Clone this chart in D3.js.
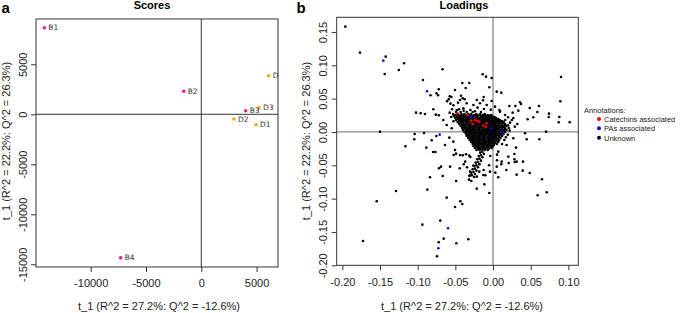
<!DOCTYPE html>
<html>
<head>
<meta charset="utf-8">
<script src="https://cdnjs.cloudflare.com/ajax/libs/d3/7.8.5/d3.min.js"></script>
<style>
  body { margin: 0; background: #fff; }
  text { font-family: "Liberation Sans", Arial, sans-serif; }
</style>
</head>
<body>
<div id="chart"></div>
<script>
// Scores (panel a)
const scoreLabels = ["B1", "B2", "B3", "B4", "D1", "D2", "D3", "D4"];
const scoreT1 = [-14195, -1590, 4015, -7288, 4946, 2957, 5217, 6094];
const scoreT2 = [8660, 2300, 360, -14340, -1040, -470, 660, 3860];
const scoreGroup = ["B", "B", "B", "B", "D", "D", "D", "D"];
const scoreXTicks = [-10000, -5000, 0, 5000];
const scoreYTicks = [-15000, -10000, -5000, 0, 5000];

// Loadings (panel b)
const catechinPoints = [[-0.0474, 0.028], [-0.0341, 0.0255], [-0.0288, 0.017], [-0.027, 0.012], [-0.0239, 0.018],
  [-0.0212, 0.0165], [-0.0182, 0.0155], [-0.0129, 0.0095], [-0.0097, 0.008], [-0.0084, 0.013]];
const paPoints = [[-0.1456, 0.107], [-0.0876, 0.061], [-0.0708, -0.004], [-0.0296, 0.023], [-0.003, 0.0055],
  [0.0124, -0.0005], [-0.0597, -0.1445], [-0.0726, -0.1745]];
const unknownPoints = [
  [-0.196, 0.158], [-0.1766, 0.119], [-0.1424, 0.113], [-0.1438, 0.087], [-0.118, 0.103], [-0.125, 0.093],
  [-0.067, 0.094], [-0.093, 0.078], [-0.072, 0.064], [-0.0504, 0.063], [-0.075, 0.058], [-0.073, 0.055],
  [-0.083, 0.055], [-0.0575, 0.0535], [-0.0553, 0.0525], [-0.0588, 0.049], [-0.061, 0.046],
  [-0.0137, 0.0865], [-0.0093, 0.083], [-0.0018, 0.081], [-0.0407, 0.0735], [-0.0315, 0.0735], [-0.0363, 0.066],
  [-0.0049, 0.067], [0.0049, 0.0605], [0.011, 0.059], [0.0903, 0.0825], [-0.0425, 0.0544], [-0.0402, 0.0505],
  [-0.0376, 0.049], [-0.0216, 0.048], [-0.0124, 0.0525], [-0.0133, 0.0475], [-0.0018, 0.0465], [0.0894, 0.046],
  [0.0358, 0.0445], [0.0372, 0.042], [0.0217, 0.039], [0.0296, 0.039], [0.0487, 0.036], [0.061, 0.039],
  [0.0589, 0.030], [0.0743, 0.0275], [0.074, 0.0225], [0.0535, 0.022], [0.046, 0.019], [0.088, 0.0225],
  [0.0872, 0.0145], [0.1018, 0.0145], [0.0704, 0.0005], [0.0336, 0.032], [0.0261, 0.029], [0.027, 0.021],
  [0.0226, 0.014], [0.0323, 0.012], [0.0163, 0.018], [0.0425, -0.002], [0.0615, -0.011], [0.0447, -0.011],
  [0.0305, -0.0235], [0.0283, -0.033],
  [-0.1022, 0.029], [-0.096, 0.028], [-0.0903, 0.027], [-0.0792, 0.034], [-0.076, 0.026], [-0.072, 0.025],
  [-0.15, 0.0005], [-0.104, -0.003], [-0.0916, -0.0015], [-0.1045, -0.011], [-0.0814, -0.0125], [-0.0752, -0.006],
  [-0.1164, -0.0215], [-0.0885, -0.0235], [-0.0796, -0.030], [-0.0766, -0.030], [-0.0717, -0.0545], [-0.069, -0.052],
  [-0.0836, -0.068], [-0.1288, -0.0885], [-0.1544, -0.104], [-0.0872, -0.0865], [-0.0615, -0.0985], [-0.0504, -0.1125],
  [-0.049, -0.0735], [-0.0938, -0.139], [-0.070, -0.133], [-0.0655, -0.160], [-0.0721, -0.1655], [-0.0743, -0.1865],
  [-0.1726, -0.1635], [-0.0487, -0.167], [-0.0328, -0.161], [-0.0434, -0.104], [-0.0408, -0.108], [-0.0049, -0.0915],
  [-0.0216, -0.085], [-0.0115, -0.0785], [-0.0319, -0.0715], [-0.0288, -0.0735], [-0.0252, -0.0675], [-0.0309, -0.065],
  [-0.0102, -0.065], [0.0031, -0.061], [0.007, -0.068], [0.0177, -0.057], [0.0314, -0.064], [0.0394, -0.058],
  [0.0487, -0.0615], [0.065, -0.071], [0.0713, -0.0905], [0.0593, -0.095],
  [-0.0522, -0.0345], [-0.0491, -0.0325], [-0.0402, -0.035], [-0.0358, -0.0335], [-0.0301, -0.0375], [-0.0315, -0.0355],
  [-0.0036, -0.036], [0.0053, -0.034], [-0.0442, -0.0545], [-0.0345, -0.053], [-0.0389, -0.0485], [-0.0261, -0.0505],
  [-0.0182, -0.0485], [-0.0053, -0.050], [0.0053, -0.0425], [0.011, -0.0485], [0.0208, -0.0465], [0.0283, -0.041],
  [0.0288, -0.045], [0.0398, -0.0445], [-0.0668, -0.066], [-0.0182, -0.0595], [-0.0124, -0.057],
  // around the dense core
  [-0.066, 0.018], [-0.0615, 0.0105], [-0.0548, 0.0055], [-0.058, -0.0085], [-0.0527, -0.0145], [-0.0637, -0.0195],
  [-0.0504, -0.027], [-0.0438, -0.0345], [-0.057, -0.052], [-0.037, -0.0445], [-0.0305, -0.0595], [0.007, -0.0295],
  [0.018, -0.0195], [0.027, -0.0095], [0.029, 0.008], [0.025, 0.018], [0.016, 0.0255], [0.0093, 0.0305],
  [0.0027, 0.038], [-0.0084, 0.0405], [-0.0173, 0.043], [-0.026, 0.0405], [-0.035, 0.043], [-0.0438, 0.048],
  [-0.0394, 0.0355], [-0.048, 0.033], [0.0314, -0.0445], [0.0203, -0.037], [0.0115, -0.0445], [0.0049, -0.052],
  [-0.004, -0.0595], [-0.0129, -0.0645], [-0.0216, -0.067], [-0.0565, 0.0425], [-0.0525, 0.040], [-0.0465, 0.044],
  [-0.0545, 0.034], [-0.0575, 0.029], [-0.0555, 0.0225], [-0.0525, 0.016], [0.020, 0.022], [0.021, 0.006],
  [0.0195, -0.004], [0.012, -0.018], [0.0085, 0.033], [-0.003, 0.0335], [-0.012, 0.0345], [-0.0205, 0.0365],
  [-0.045, 0.034], [-0.039, 0.032], [-0.030, 0.033], [-0.024, 0.031], [-0.016, 0.030], [0.020, 0.010],
  [0.022, 0.002], [0.017, -0.008], [0.015, -0.012],
  // spine running down from the core
  [-0.014, -0.030], [-0.017, -0.031], [-0.012, -0.033], [-0.016, -0.035], [-0.019, -0.036], [-0.014, -0.038],
  [-0.018, -0.040], [-0.021, -0.041], [-0.016, -0.043], [-0.020, -0.045], [-0.023, -0.046], [-0.018, -0.048],
  [-0.022, -0.050], [-0.025, -0.051], [-0.020, -0.053], [-0.024, -0.055], [-0.027, -0.056], [-0.022, -0.058],
  [-0.026, -0.060], [-0.029, -0.061], [-0.024, -0.063], [-0.028, -0.065], [-0.031, -0.066]
];
// dense core, one row per t_2 level: [t_2, [t_1 values]]
const unknownCoreRows = [
  [0.030, [-0.049, -0.043, -0.035, -0.027]],
  [0.027, [-0.053, -0.047, -0.042, -0.038, -0.033, -0.029, -0.022, -0.017, -0.011]],
  [0.0255, [-0.050, -0.046, -0.043, -0.039, -0.036, -0.032, -0.029, -0.025, -0.022, -0.018, -0.014, -0.011, -0.007, -0.003]],
  [0.024, [-0.052, -0.048, -0.045, -0.041, -0.038, -0.034, -0.031, -0.027, -0.023, -0.020, -0.016, -0.013, -0.009, -0.005, -0.001]],
  [0.0225, [-0.048, -0.044, -0.041, -0.037, -0.034, -0.030, -0.027, -0.023, -0.020, -0.016, -0.013, -0.009, -0.006, -0.002, 0.002]],
  [0.021, [-0.050, -0.046, -0.043, -0.039, -0.036, -0.032, -0.029, -0.025, -0.022, -0.018, -0.015, -0.011, -0.008, -0.004, 0.000, 0.004]],
  [0.0195, [-0.047, -0.043, -0.040, -0.036, -0.033, -0.029, -0.026, -0.022, -0.019, -0.015, -0.012, -0.008, -0.005, -0.001, 0.003, 0.007]],
  [0.018, [-0.049, -0.045, -0.041, -0.038, -0.034, -0.031, -0.027, -0.024, -0.020, -0.017, -0.013, -0.010, -0.006, -0.003, 0.001, 0.005, 0.009]],
  [0.0165, [-0.045, -0.042, -0.038, -0.035, -0.031, -0.028, -0.024, -0.021, -0.017, -0.014, -0.010, -0.007, -0.003, 0.000, 0.004, 0.008, 0.012]],
  [0.015, [-0.047, -0.043, -0.040, -0.036, -0.033, -0.029, -0.026, -0.022, -0.019, -0.015, -0.012, -0.008, -0.005, -0.001, 0.002, 0.006, 0.010, 0.014]],
  [0.0135, [-0.043, -0.040, -0.036, -0.033, -0.029, -0.026, -0.023, -0.019, -0.016, -0.012, -0.009, -0.005, -0.002, 0.002, 0.006, 0.010, 0.014]],
  [0.012, [-0.045, -0.041, -0.038, -0.034, -0.031, -0.028, -0.024, -0.021, -0.017, -0.014, -0.010, -0.007, -0.003, 0.000, 0.004, 0.008, 0.012, 0.016]],
  [0.0105, [-0.041, -0.038, -0.034, -0.031, -0.027, -0.024, -0.020, -0.017, -0.013, -0.010, -0.006, -0.003, 0.001, 0.004, 0.008, 0.012, 0.016]],
  [0.009, [-0.043, -0.039, -0.036, -0.032, -0.029, -0.026, -0.022, -0.019, -0.015, -0.012, -0.008, -0.005, -0.001, 0.002, 0.006, 0.010, 0.014, 0.018]],
  [0.0075, [-0.039, -0.036, -0.032, -0.029, -0.025, -0.022, -0.018, -0.015, -0.011, -0.008, -0.004, -0.001, 0.003, 0.006, 0.010, 0.014]],
  [0.006, [-0.041, -0.037, -0.034, -0.030, -0.027, -0.024, -0.020, -0.017, -0.013, -0.010, -0.006, -0.003, 0.001, 0.004, 0.008, 0.012, 0.016]],
  [0.0045, [-0.038, -0.034, -0.031, -0.027, -0.024, -0.020, -0.017, -0.013, -0.009, -0.006, -0.002, 0.001, 0.005, 0.008, 0.012, 0.016]],
  [0.003, [-0.040, -0.036, -0.032, -0.029, -0.025, -0.022, -0.018, -0.015, -0.011, -0.008, -0.004, -0.001, 0.003, 0.006, 0.010, 0.014, 0.018]],
  [0.0015, [-0.036, -0.033, -0.029, -0.026, -0.022, -0.019, -0.015, -0.012, -0.008, -0.005, -0.001, 0.002, 0.006, 0.010, 0.014]],
  [0.000, [-0.038, -0.034, -0.031, -0.027, -0.024, -0.020, -0.017, -0.013, -0.010, -0.006, -0.003, 0.001, 0.004, 0.008, 0.012, 0.016]],
  [-0.0015, [-0.035, -0.031, -0.028, -0.024, -0.021, -0.017, -0.014, -0.010, -0.007, -0.003, 0.000, 0.004, 0.008, 0.012]],
  [-0.003, [-0.036, -0.032, -0.029, -0.025, -0.022, -0.018, -0.015, -0.011, -0.008, -0.004, -0.001, 0.003, 0.006, 0.010, 0.014]],
  [-0.0045, [-0.033, -0.030, -0.026, -0.023, -0.019, -0.016, -0.012, -0.009, -0.005, -0.002, 0.002, 0.006, 0.010]],
  [-0.006, [-0.035, -0.031, -0.027, -0.024, -0.020, -0.017, -0.013, -0.010, -0.006, -0.003, 0.001, 0.004, 0.008, 0.012]],
  [-0.0075, [-0.032, -0.028, -0.025, -0.021, -0.018, -0.014, -0.011, -0.007, -0.004, 0.000, 0.004, 0.008]],
  [-0.009, [-0.033, -0.029, -0.026, -0.022, -0.019, -0.015, -0.012, -0.008, -0.005, -0.001, 0.002, 0.006, 0.010]],
  [-0.0105, [-0.030, -0.026, -0.023, -0.019, -0.016, -0.012, -0.009, -0.005, -0.002, 0.002, 0.006]],
  [-0.012, [-0.031, -0.027, -0.024, -0.020, -0.017, -0.013, -0.010, -0.006, -0.003, 0.001, 0.005, 0.008]],
  [-0.0135, [-0.028, -0.025, -0.021, -0.018, -0.014, -0.011, -0.007, -0.004, 0.000, 0.004]],
  [-0.015, [-0.029, -0.026, -0.022, -0.019, -0.015, -0.012, -0.008, -0.005, -0.001, 0.003, 0.007]],
  [-0.0165, [-0.026, -0.023, -0.019, -0.016, -0.012, -0.009, -0.005, -0.002, 0.002]],
  [-0.018, [-0.027, -0.024, -0.020, -0.017, -0.013, -0.010, -0.006, -0.003, 0.001, 0.005]],
  [-0.0195, [-0.024, -0.021, -0.017, -0.014, -0.010, -0.007, -0.003, 0.001]],
  [-0.021, [-0.026, -0.022, -0.019, -0.015, -0.012, -0.008, -0.004, 0.000]],
  [-0.0225, [-0.022, -0.019, -0.015, -0.012, -0.008, -0.005, -0.001]],
  [-0.024, [-0.024, -0.020, -0.017, -0.013, -0.010, -0.006, -0.002]],
  [-0.0255, [-0.020, -0.017, -0.013, -0.010, -0.006]],
  [-0.027, [-0.022, -0.018, -0.015, -0.011, -0.007]]
];
const loadXTicks = [-0.20, -0.15, -0.10, -0.05, 0.00, 0.05, 0.10];
const loadYTicks = [-0.20, -0.15, -0.10, -0.05, 0.00, 0.05, 0.10, 0.15];
const legendLabels = ["Catechins associated", "PAs associated", "Unknown"];
const legendColors = ["#ff0000", "#0000ff", "#000000"];

document.addEventListener('DOMContentLoaded', () => {
    const svg = d3.select("#chart")
        .append("svg")
        .attr("width", 685)
        .attr("height", 313);

    const xTitle = "t_1 (R^2 = 27.2%: Q^2 = -12.6%)";
    const yTitle = "t_1 (R^2 = 22.2%: Q^2 = 26.3%)";

    // draws box, axes, zero lines and titles for one panel
    function frame(x, y, xTicks, yTicks, fmt, opt) {
        const [x0, x1] = x.range(), [y0, y1] = y.range();
        const g = svg.append("g");

        const ax = g.append("g")
            .attr("transform", `translate(0,${y0})`)
            .call(d3.axisBottom(x).tickValues(xTicks).tickFormat(fmt).tickSize(5).tickSizeOuter(0).tickPadding(opt.xPad));
        const ay = g.append("g")
            .attr("transform", `translate(${x0},0)`)
            .call(d3.axisLeft(y).tickValues(yTicks).tickFormat(fmt).tickSize(5).tickSizeOuter(0));
        [ax, ay].forEach(a => {
            a.select(".domain").remove();
            a.selectAll("line").attr("stroke", "#333");
            a.selectAll("text").attr("fill", "#222").style("font-size", "11px")
                .style("font-family", "'Liberation Sans', Arial, sans-serif");
        });
        // R style: y tick labels run parallel to the axis
        ay.selectAll("text")
            .attr("x", null).attr("dy", null).attr("y", 0)
            .attr("text-anchor", "middle")
            .attr("transform", `translate(${-opt.yPad},0)rotate(-90)`);

        // zero lines
        g.append("line").attr("x1", x0).attr("x2", x1).attr("y1", y(0)).attr("y2", y(0))
            .attr("stroke", opt.zeroColor).attr("stroke-width", opt.zeroWidth);
        g.append("line").attr("x1", x(0)).attr("x2", x(0)).attr("y1", y0).attr("y2", y1)
            .attr("stroke", opt.zeroColor).attr("stroke-width", opt.zeroWidth);

        g.append("rect")
            .attr("x", x0).attr("y", y1)
            .attr("width", x1 - x0).attr("height", y0 - y1)
            .attr("fill", "none").attr("stroke", "#333").attr("stroke-width", 1);

        g.append("text").attr("x", opt.titleX).attr("y", 9)
            .attr("text-anchor", "middle").style("font-size", "11px").style("font-weight", "bold")
            .text(opt.title);
        g.append("text").attr("x", opt.tagX).attr("y", 12.6)
            .style("font-size", "15px").style("font-weight", "bold")
            .text(opt.tag);
        g.append("text").attr("x", opt.xTitleX).attr("y", 309.5)
            .attr("text-anchor", "middle").style("font-size", "11px").attr("fill", "#222")
            .text(xTitle);
        g.append("text")
            .attr("transform", `translate(${opt.yTitleX},${opt.yTitleY})rotate(-90)`)
            .attr("text-anchor", "middle").style("font-size", "11px").attr("fill", "#222")
            .text(yTitle);
        return g;
    }

    // ---- panel a: Scores
    const sx = d3.scaleLinear().domain([-14950, 6940]).range([36, 278]);
    const sy = d3.scaleLinear().domain([-15270, 9530]).range([267, 19]);
    const ga = frame(sx, sy, scoreXTicks, scoreYTicks, d => String(d), {
        xPad: 7.5, yPad: 9.3, zeroColor: "#333", zeroWidth: 1,
        title: "Scores", titleX: 152, tag: "a", tagX: 1.5,
        xTitleX: 159, yTitleX: 10, yTitleY: 141
    });

    svg.append("clipPath").attr("id", "clipA")
        .append("rect").attr("x", 36).attr("y", 19).attr("width", 242).attr("height", 248);

    const scores = scoreLabels.map((l, i) => ({ label: l, t1: scoreT1[i], t2: scoreT2[i], group: scoreGroup[i] }));
    const groupColor = { B: "#ff1493", D: "#ffa500" };
    const pts = ga.append("g").attr("clip-path", "url(#clipA)");
    pts.selectAll("circle")
        .data(scores)
        .enter()
        .append("circle")
        .attr("cx", d => sx(d.t1))
        .attr("cy", d => sy(d.t2))
        .attr("r", 1.8)
        .attr("fill", d => groupColor[d.group]);
    pts.selectAll("text.lab")
        .data(scores)
        .enter()
        .append("text")
        .attr("class", "lab")
        .attr("x", d => sx(d.t1) + 4)
        .attr("y", d => sy(d.t2))
        .attr("dy", "0.35em")
        .attr("fill", "#333")
        .style("font-family", "'DejaVu Sans', sans-serif")
        .style("font-size", "7.5px")
        .text(d => d.label);

    // ---- panel b: Loadings
    const lx = d3.scaleLinear().domain([-0.2075, 0.1132]).range([336.7, 578.3]);
    const ly = d3.scaleLinear().domain([-0.2, 0.172]).range([265.3, 17.3]);
    const gb = frame(lx, ly, loadXTicks, loadYTicks, d => d.toFixed(2), {
        xPad: 8, yPad: 10, zeroColor: "#8a8a8a", zeroWidth: 1.3,
        title: "Loadings", titleX: 464, tag: "b", tagX: 296.5,
        xTitleX: 462, yTitleX: 310, yTitleY: 141
    });

    const loadings = [];
    unknownPoints.forEach(p => loadings.push({ t1: p[0], t2: p[1], c: 2 }));
    unknownCoreRows.forEach(([t2, xs]) => xs.forEach(t1 => loadings.push({ t1, t2, c: 2 })));
    catechinPoints.forEach(p => loadings.push({ t1: p[0], t2: p[1], c: 0 }));
    paPoints.forEach(p => loadings.push({ t1: p[0], t2: p[1], c: 1 }));

    gb.append("g").selectAll("circle")
        .data(loadings)
        .enter()
        .append("circle")
        .attr("cx", d => lx(d.t1))
        .attr("cy", d => ly(d.t2))
        .attr("r", 1.3)
        .attr("fill", d => legendColors[d.c]);

    // legend
    const leg = svg.append("g").style("font-family", "'DejaVu Sans', sans-serif").style("font-size", "7.5px");
    leg.append("text").attr("x", 584).attr("y", 112.5).attr("fill", "#222").text("Annotations:");
    legendLabels.forEach((l, i) => {
        leg.append("circle").attr("cx", 599).attr("cy", 119 + i * 9.35).attr("r", 2).attr("fill", legendColors[i]);
        leg.append("text").attr("x", 604).attr("y", 121.8 + i * 9.35).attr("fill", "#222").text(l);
    });
});
</script>
</body>
</html>
